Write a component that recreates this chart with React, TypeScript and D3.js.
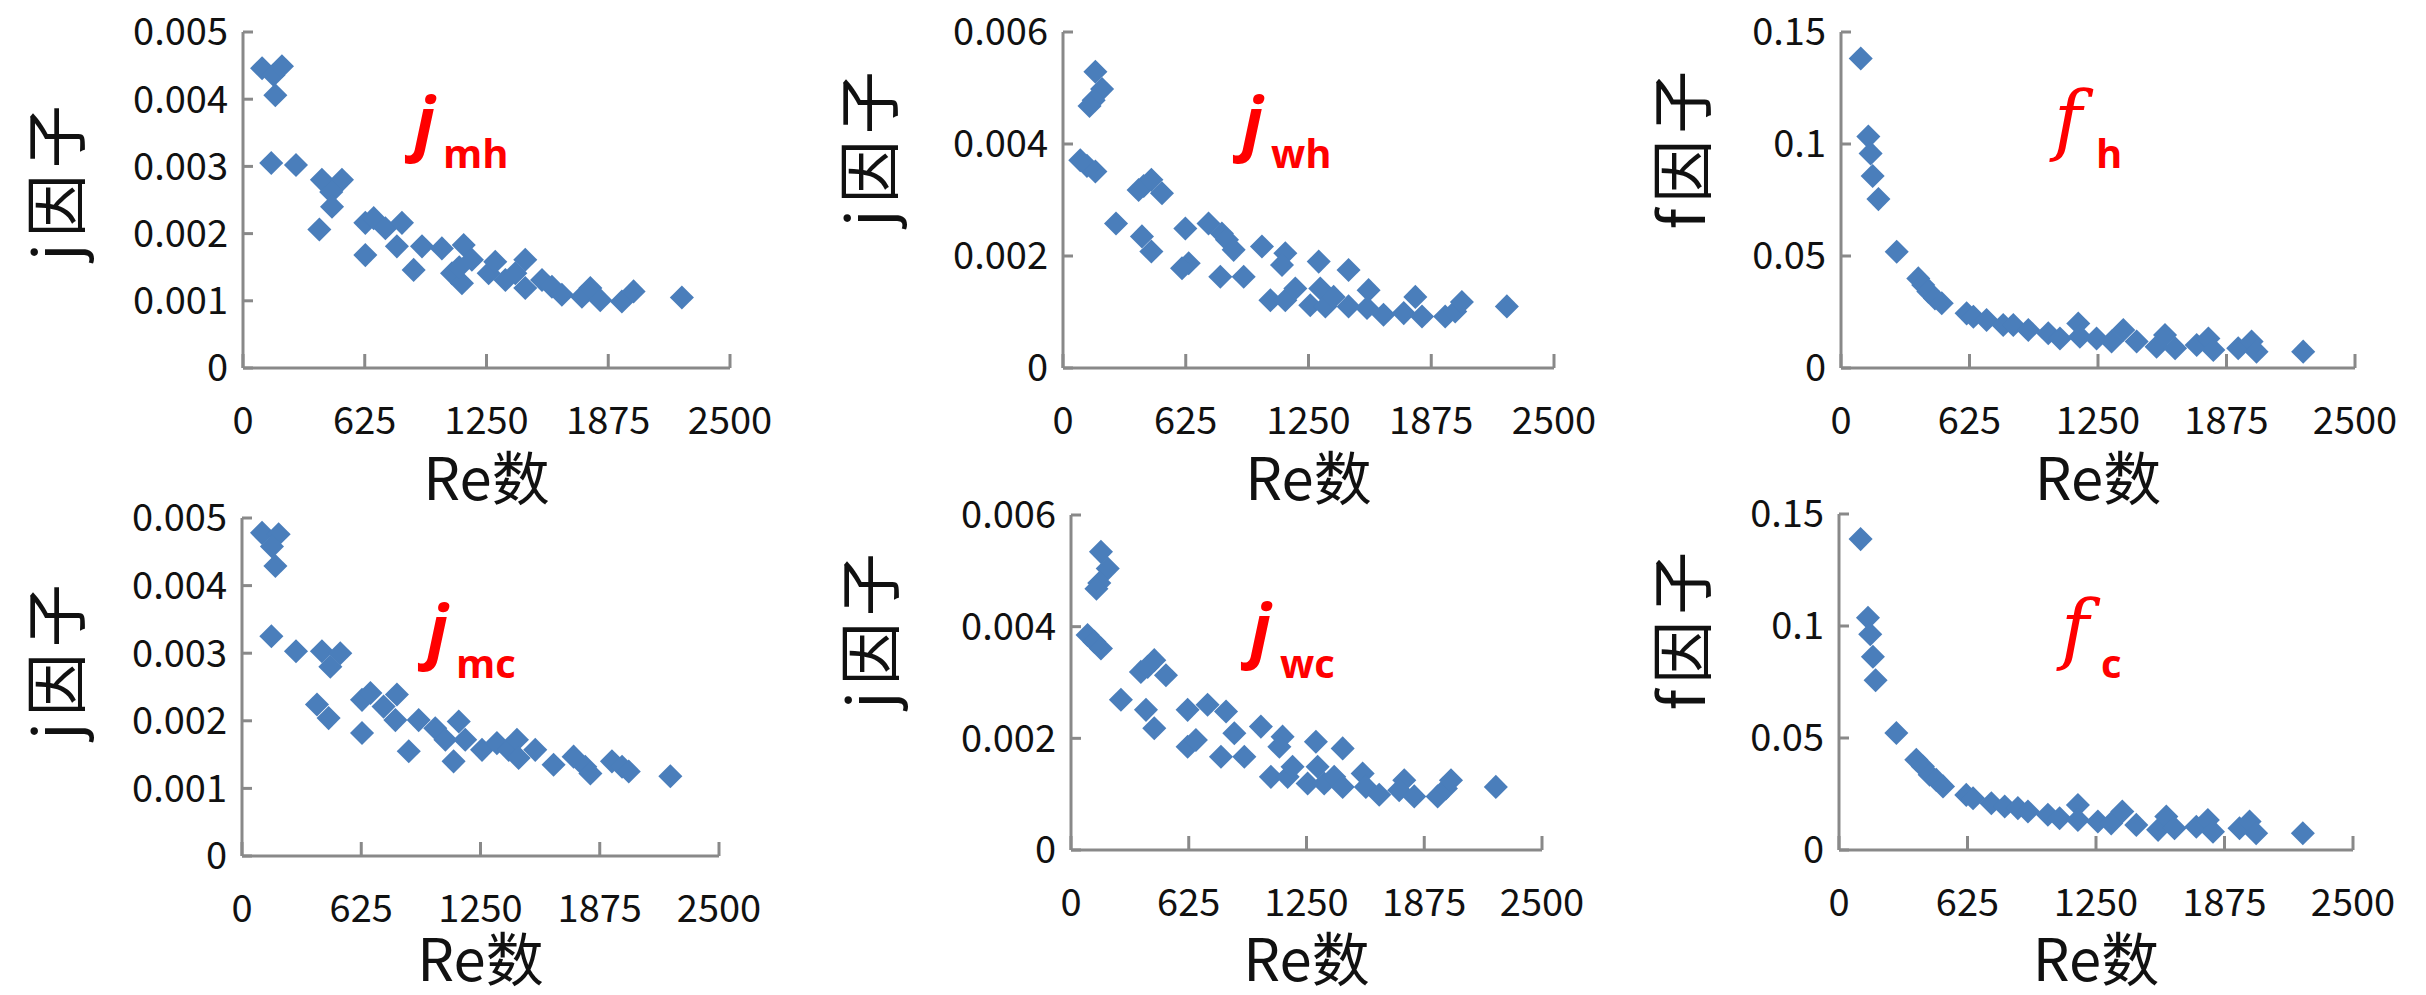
import React from 'react'
import * as d3 from 'd3'

// Re number vs. factor
const jmh = [
  [98, 0.00446], [157, 0.00436], [200, 0.00449], [166, 0.00406],
  [145, 0.00305], [272, 0.00302],
  [405, 0.0028], [508, 0.0028], [453, 0.00262], [457, 0.0024], [392, 0.00206],
  [628, 0.00216], [671, 0.00223], [731, 0.00208], [816, 0.00216], [628, 0.00168], [790, 0.00181], [876, 0.00146],
  [919, 0.00181], [1021, 0.00178], [1133, 0.00183], [1073, 0.00141], [1124, 0.00126], [1175, 0.00161], [1110, 0.0015],
  [1261, 0.00141], [1295, 0.00158], [1347, 0.00131], [1398, 0.00141], [1449, 0.00161], [1449, 0.00119],
  [1535, 0.00131], [1586, 0.00121], [1637, 0.00109], [1740, 0.00106], [1783, 0.00119], [1834, 0.00101],
  [1945, 0.00099], [2005, 0.00114], [2253, 0.00105],
]

const jwh = [
  [165, 0.00529], [199, 0.00498], [156, 0.00478], [135, 0.00468],
  [88, 0.00371], [122, 0.00361], [165, 0.00351],
  [385, 0.00318], [411, 0.00325], [450, 0.00336], [504, 0.00312],
  [270, 0.00258], [402, 0.00235], [450, 0.00208],
  [623, 0.00249], [640, 0.00187], [606, 0.00178],
  [741, 0.00258], [809, 0.0024], [835, 0.00229], [869, 0.00211], [801, 0.00163], [920, 0.00163],
  [1013, 0.00217], [1132, 0.00205], [1115, 0.00184], [1302, 0.0019], [1454, 0.00175],
  [1056, 0.00121], [1132, 0.00121], [1183, 0.00142], [1259, 0.00112], [1310, 0.00142], [1336, 0.0011],
  [1378, 0.00127], [1454, 0.0011], [1556, 0.00139], [1548, 0.00107], [1632, 0.00095], [1735, 0.00098],
  [1794, 0.00127], [1828, 0.00092], [1946, 0.00092], [1997, 0.00101], [2031, 0.00118], [2260, 0.0011],
]

const fh = [
  [96, 0.1382], [133, 0.1033], [144, 0.0958], [154, 0.0857], [182, 0.0754], [271, 0.0519],
  [376, 0.04], [400, 0.0371], [425, 0.0341], [457, 0.0311], [490, 0.0289],
  [611, 0.0244], [644, 0.0229], [708, 0.0214], [789, 0.0192], [838, 0.0192], [911, 0.017],
  [1008, 0.0155], [1065, 0.0132], [1154, 0.0199], [1162, 0.014], [1243, 0.0132], [1316, 0.0118],
  [1373, 0.017], [1438, 0.0118], [1535, 0.0095], [1576, 0.0147], [1625, 0.0088], [1730, 0.0103],
  [1787, 0.0132], [1811, 0.008], [1932, 0.0088], [1997, 0.0118], [2021, 0.0073], [2248, 0.0073],
]

const jmc = [
  [105, 0.00478], [192, 0.00476], [157, 0.00458], [175, 0.00429],
  [154, 0.00325], [283, 0.00303], [419, 0.00303], [515, 0.003], [463, 0.0028],
  [393, 0.00224], [454, 0.00204], [629, 0.00182],
  [629, 0.00231], [673, 0.00241], [742, 0.00221], [812, 0.00239], [804, 0.00201],
  [874, 0.00155], [926, 0.00201], [1013, 0.00189], [1066, 0.00172], [1136, 0.00199], [1170, 0.00172], [1109, 0.0014],
  [1258, 0.00157], [1336, 0.00167], [1398, 0.00157], [1441, 0.00172], [1450, 0.00145], [1537, 0.00157],
  [1633, 0.00135], [1738, 0.00147], [1799, 0.00132], [1826, 0.00122], [1939, 0.0014], [1992, 0.00132],
  [2027, 0.00125], [2245, 0.00118],
]

const jwc = [
  [159, 0.00534], [195, 0.00504], [150, 0.00478], [135, 0.00468],
  [88, 0.00385], [124, 0.00373], [159, 0.00361],
  [371, 0.00319], [407, 0.00328], [442, 0.0034], [504, 0.00313],
  [265, 0.00269], [398, 0.00251], [442, 0.00218],
  [619, 0.00251], [725, 0.0026], [823, 0.00248], [867, 0.00209], [619, 0.00185], [663, 0.00197],
  [796, 0.00167], [920, 0.00167],
  [1008, 0.00221], [1123, 0.00203], [1106, 0.00185], [1300, 0.00194], [1442, 0.00182],
  [1061, 0.00131], [1150, 0.00131], [1176, 0.00149], [1256, 0.00119], [1309, 0.00149], [1344, 0.00119],
  [1397, 0.00131], [1442, 0.00113], [1548, 0.00137], [1565, 0.00113], [1636, 0.00099], [1769, 0.00125],
  [1742, 0.00107], [1822, 0.00096], [1946, 0.00096], [1990, 0.0011], [2017, 0.00125], [2255, 0.00113],
]

const fc = [
  [105, 0.1388], [141, 0.1037], [152, 0.0963], [165, 0.0863], [178, 0.0758], [279, 0.0522],
  [376, 0.0403], [408, 0.0373], [441, 0.0336], [473, 0.0313], [506, 0.0284],
  [619, 0.0246], [652, 0.0231], [741, 0.0209], [806, 0.0194], [870, 0.0187], [919, 0.0172],
  [1016, 0.0157], [1073, 0.0142], [1162, 0.0201], [1162, 0.0134], [1259, 0.0127], [1324, 0.0119],
  [1378, 0.0172], [1446, 0.0112], [1552, 0.009], [1592, 0.0149], [1632, 0.0097], [1738, 0.0104],
  [1794, 0.0134], [1819, 0.0082], [1948, 0.0097], [1997, 0.0127], [2029, 0.0075], [2256, 0.0075],
]

const xTicks = [0, 625, 1250, 1875, 2500]
const yTicksJ5 = [0, 0.001, 0.002, 0.003, 0.004, 0.005]
const yTicksJ6 = [0, 0.002, 0.004, 0.006]
const yTicksF = [0, 0.05, 0.1, 0.15]

const panels = [
  { data: jmh, yTicks: yTicksJ5, yTitle: 'j因子', main: 'j', sub: 'mh', serif: false,
    x0: 243, x1: 730, y0: 368, y1: 32, tx: 59, ty: 180, lx: 414, ly: 147, sx: 443, sy: 168, xt: 500 },
  { data: jwh, yTicks: yTicksJ6, yTitle: 'j因子', main: 'j', sub: 'wh', serif: false,
    x0: 1063, x1: 1554, y0: 368, y1: 32, tx: 872, ty: 146, lx: 1242, ly: 147, sx: 1271, sy: 168, xt: 500 },
  { data: fh, yTicks: yTicksF, yTitle: 'f因子', main: 'f', sub: 'h', serif: true,
    x0: 1841, x1: 2355, y0: 368, y1: 32, tx: 1685, ty: 147, lx: 2054, ly: 146, sx: 2096, sy: 168, xt: 500 },
  { data: jmc, yTicks: yTicksJ5, yTitle: 'j因子', main: 'j', sub: 'mc', serif: false,
    x0: 242, x1: 719, y0: 856, y1: 518, tx: 59, ty: 659, lx: 427, ly: 655, sx: 456, sy: 678, xt: 981 },
  { data: jwc, yTicks: yTicksJ6, yTitle: 'j因子', main: 'j', sub: 'wc', serif: false,
    x0: 1071, x1: 1542, y0: 850, y1: 515, tx: 873, ty: 628, lx: 1250, ly: 654, sx: 1280, sy: 678, xt: 981 },
  { data: fc, yTicks: yTicksF, yTitle: 'f因子', main: 'f', sub: 'c', serif: true,
    x0: 1839, x1: 2353, y0: 850, y1: 514, tx: 1685, ty: 628, lx: 2061, ly: 655, sx: 2101, sy: 678, xt: 981 },
]

const axisColor = '#898989'
const dotColor = '#4a7ebb'
const tickFont = '"Noto Sans CJK SC", "Noto Sans", sans-serif'
const redSans = '"Open Sans", "Noto Sans", sans-serif'

const fmt = (v: number) => (v === 0 ? '0' : String(+v.toFixed(3)))

const diamond = d3.symbol(d3.symbolSquare, 290)()

const Panel = ({ p }: { p: any }) => {
  const x = d3.scaleLinear().domain([0, 2500]).range([p.x0, p.x1])
  const yMax = p.yTicks[p.yTicks.length - 1]
  const y = d3.scaleLinear().domain([0, yMax]).range([p.y0, p.y1])

  return (
    <g>
      {/* axes */}
      <line x1={x(0)} x2={x(0)} y1={y(0)} y2={y(yMax)} stroke={axisColor} strokeWidth={3} />
      <line x1={x(0)} x2={x(2500)} y1={y(0)} y2={y(0)} stroke={axisColor} strokeWidth={3} />
      {p.yTicks.map((t: number) => (
        <g key={'y' + t}>
          <line x1={x(0)} x2={x(0) + 10} y1={y(t)} y2={y(t)} stroke={axisColor} strokeWidth={3} />
          <text x={x(0) - 15} y={y(t)} dy="0.35em" textAnchor="end" fontSize={38}
            fontFamily={tickFont} fill="#111">{fmt(t)}</text>
        </g>
      ))}
      {xTicks.map(t => (
        <g key={'x' + t}>
          <line x1={x(t)} x2={x(t)} y1={y(0)} y2={y(0) - 14} stroke={axisColor} strokeWidth={3} />
          <text x={x(t)} y={y(0) + 66} textAnchor="middle" fontSize={38}
            fontFamily={tickFont} fill="#111">{t}</text>
        </g>
      ))}

      {/* points */}
      {p.data.map((d: number[], i: number) => (
        <path key={i} d={diamond as string} fill={dotColor}
          transform={`translate(${x(d[0])},${y(d[1])}) rotate(45)`} />
      ))}

      {/* titles */}
      <text x={(p.x0 + p.x1) / 2} y={p.xt} textAnchor="middle" fontSize={58}
        fontFamily={tickFont} fill="#111">Re数</text>
      <text transform={`translate(${p.tx + 20},${p.ty}) rotate(-90)`} textAnchor="middle" fontSize={63}
        letterSpacing={6} fontFamily={tickFont} fill="#111">{p.yTitle}</text>

      {/* red label */}
      <text x={p.lx} y={p.ly} fill="#ff0000" fontSize={p.serif ? 76 : 70}
        fontStyle="italic" fontWeight={p.serif ? 'normal' : 'bold'}
        fontFamily={p.serif ? '"DejaVu Serif", "Liberation Serif", serif' : redSans}>
        {p.main}
      </text>
      <text x={p.sx} y={p.sy} fill="#ff0000" fontSize={40} fontWeight="bold"
        fontFamily={redSans}>{p.sub}</text>
    </g>
  )
}

const App = () => {
  return (
    <svg width={2426} height={995} style={{ position: 'absolute', left: 0, top: 0, background: '#fff' }}>
      {panels.map((p, i) => <Panel key={i} p={p} />)}
    </svg>
  )
}

export default App
